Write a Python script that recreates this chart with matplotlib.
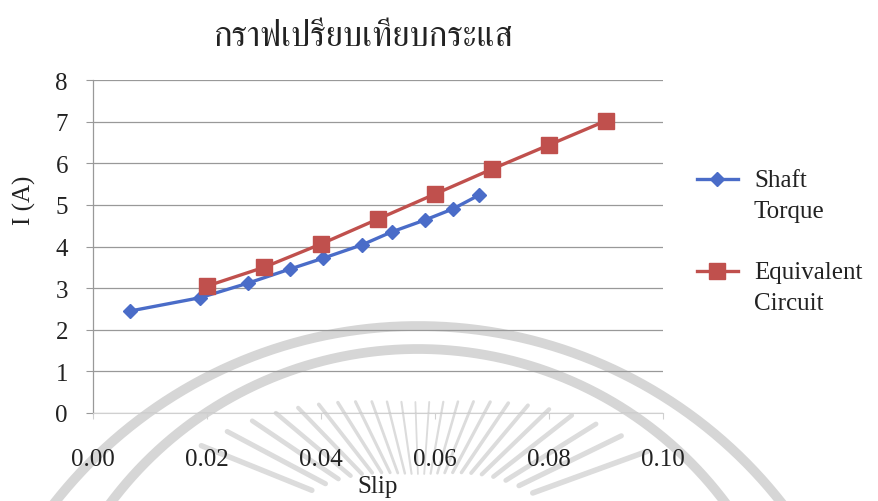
import numpy as np
import matplotlib
matplotlib.use("Agg")
import matplotlib.pyplot as plt
from matplotlib import font_manager
from matplotlib.ft2font import FT2Font
from matplotlib.lines import Line2D
from matplotlib.transforms import Affine2D

# ---- data ----
slip_shaft = [0.0065, 0.0188, 0.0272, 0.0346, 0.0404, 0.0472, 0.0524, 0.0583, 0.0631, 0.0678]
current_shaft = [2.45, 2.77, 3.12, 3.46, 3.72, 4.04, 4.35, 4.64, 4.90, 5.24]
slip_equiv = [0.02, 0.03, 0.04, 0.05, 0.06, 0.07, 0.08, 0.09]
current_equiv = [3.05, 3.50, 4.06, 4.66, 5.26, 5.86, 6.44, 7.02]

series_names = ["Shaft\nTorque", "Equivalent\nCircuit"]
title_text = "กราฟเปรียบเทียบกระแส"
x_label = "Slip"
y_label = "I (A)"
x_ticks = [0.00, 0.02, 0.04, 0.06, 0.08, 0.10]
y_ticks = [0, 1, 2, 3, 4, 5, 6, 7, 8]

BLUE = "#4A6CC8"
RED = "#C0504D"
GRID = "#999999"
TEXT = "#222222"
SERIF = "Liberation Serif"


def find_thai_family():
    """Return an installed family name that has Thai glyphs, if any."""
    best = None
    for fe in font_manager.fontManager.ttflist:
        try:
            cmap = FT2Font(fe.fname).get_charmap()
        except Exception:
            continue
        if 0x0E01 in cmap and 0x0E2A in cmap:
            name = fe.name
            if "Serif" in name or "Looped" in name:
                return name
            if best is None:
                best = name
    return best


thai_family = find_thai_family()
title_families = ([thai_family] if thai_family else []) + [SERIF, "DejaVu Sans"]

W, H = 879, 502
fig = plt.figure(figsize=(W / 100, H / 100), dpi=100)
fig.patch.set_facecolor("white")

# pixel transform (origin top-left) for decorative background elements
px = Affine2D().scale(1 / W, -1 / H).translate(0, 1) + fig.transFigure

# faint emblem watermark behind the chart
WM = "#d6d6d6"
t = np.linspace(0, np.pi, 400)
for (ccx, ccy, r) in [(418, 789, 462), (418, 734, 384)]:
    fig.add_artist(Line2D(ccx + r * np.cos(t), ccy - r * np.sin(t), transform=px,
                          color=WM, lw=7, zorder=0))
cx, cy = 420, 535
for ang in np.arange(20, 161, 6.0):
    off = abs(ang - 90) / 70.0
    r_out = 132 + off ** 2 * 110
    r_in = 60 + off ** 2 * 60
    lw = 1.2 + off * 2.8
    a = np.deg2rad(ang)
    fig.add_artist(Line2D([cx + r_in * np.cos(a), cx + r_out * np.cos(a)],
                          [cy - r_in * np.sin(a), cy - r_out * np.sin(a)],
                          transform=px, color="#dcdcdc", lw=lw,
                          solid_capstyle="round", zorder=0))

ax = fig.add_axes([93 / W, 1 - 414 / H, 570 / W, 333 / H])
ax.set_facecolor("none")
ax.set_xlim(0, 0.10)
ax.set_ylim(0, 8)

ax.plot(slip_shaft, current_shaft, color=BLUE, lw=2.4, marker="D", ms=7,
        mfc=BLUE, mec=BLUE, zorder=3)
ax.plot(slip_equiv, current_equiv, color=RED, lw=2.4, marker="s", ms=12,
        mfc=RED, mec=RED, zorder=4)

ax.set_yticks(y_ticks)
ax.set_xticks(x_ticks)
ax.set_xticklabels([f"{v:.2f}" for v in x_ticks])
ax.grid(axis="y", color=GRID, lw=0.9)
ax.set_axisbelow(True)
for s in ["top", "right"]:
    ax.spines[s].set_visible(False)
ax.spines["left"].set_color(GRID)
ax.spines["left"].set_linewidth(0.9)
ax.spines["bottom"].set_color("#d0d0d0")
ax.spines["bottom"].set_linewidth(0.8)
ax.tick_params(axis="y", length=5, color=GRID, pad=13, labelsize=18,
               labelcolor=TEXT)
ax.tick_params(axis="x", length=4, color="#d0d0d0", pad=21, labelsize=18,
               labelcolor=TEXT)
for lab in ax.get_xticklabels() + ax.get_yticklabels():
    lab.set_family(SERIF)

ax.set_xlabel(x_label, family=SERIF, fontsize=18, color=TEXT, labelpad=0,
              va="center")
ax.xaxis.set_label_coords(0.5, (414 - 487) / 333)
ax.set_ylabel(y_label, family=SERIF, fontsize=18, color=TEXT)
ax.yaxis.set_label_coords((36 - 93) / 570, (414 - 200) / 333)

fig.text(363 / W, 1 - 38 / H, title_text, family=title_families, fontsize=25,
         color=TEXT, ha="center", va="center")

# legend: handle aligned with the first line of each two-line label
for name, color, marker, ms, y in [
    (series_names[0], BLUE, "D", 7, 180),
    (series_names[1], RED, "s", 12, 272),
]:
    fig.add_artist(Line2D([697, 738], [y, y], transform=px, color=color, lw=2.4))
    fig.add_artist(Line2D([717.5], [y], transform=px, color=color, marker=marker,
                          ms=ms, mfc=color, mec=color, lw=0))
    fig.text(754 / W, 1 - (y - 10) / H, name, family=SERIF, fontsize=18,
             color=TEXT, ha="left", va="top", linespacing=1.55)

fig.savefig("out.png", dpi=100)
